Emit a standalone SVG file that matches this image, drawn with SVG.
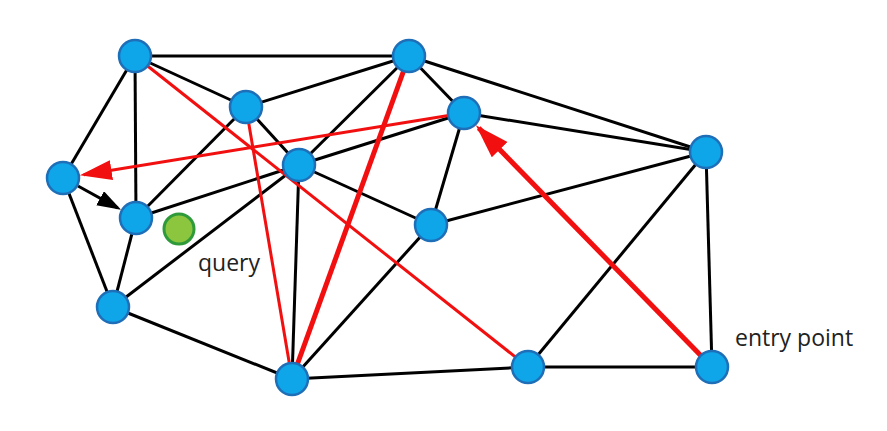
<svg xmlns="http://www.w3.org/2000/svg" width="887" height="431" viewBox="0 0 887 431">
<style>
.e{stroke:#000;stroke-width:3;fill:none}
.rt{stroke:#f20f0f;stroke-width:3;fill:none}
.rk{stroke:#f20f0f;stroke-width:5;fill:none}
.n{fill:#0ea5e9;stroke:#1f6fb8;stroke-width:2.5}
.q{fill:#8cc63f;stroke:#2e9a3a;stroke-width:3}
.t{font-family:"Open Sans","Liberation Sans",sans-serif;font-size:23px;fill:#222}
</style>
<defs>
<marker id="ar" markerUnits="userSpaceOnUse" markerWidth="40" markerHeight="30" refX="28" refY="10" orient="auto">
<path d="M0,0 L32,10 L0,20 Z" fill="#f20f0f"/>
</marker>
<marker id="ar2" markerUnits="userSpaceOnUse" markerWidth="40" markerHeight="30" refX="30" refY="11" orient="auto">
<path d="M0,0 L34,11 L0,22 Z" fill="#f20f0f"/>
</marker>
<marker id="ab" markerUnits="userSpaceOnUse" markerWidth="30" markerHeight="24" refX="20" refY="8" orient="auto">
<path d="M0,0 L24,8 L0,16 Z" fill="#000"/>
</marker>
</defs>
<g id="connectors">
<line class="e" x1="135" y1="56" x2="409" y2="56"/>
<line class="e" x1="135" y1="56" x2="246" y2="107"/>
<line class="e" x1="135" y1="56" x2="63" y2="178"/>
<line class="e" x1="135" y1="56" x2="136" y2="218"/>
<line class="e" x1="409" y1="56" x2="246" y2="107"/>
<line class="e" x1="409" y1="56" x2="299" y2="165"/>
<line class="e" x1="409" y1="56" x2="464" y2="113"/>
<line class="e" x1="409" y1="56" x2="706" y2="152"/>
<line class="e" x1="246" y1="107" x2="136" y2="218"/>
<line class="e" x1="246" y1="107" x2="299" y2="165"/>
<line class="e" x1="136" y1="218" x2="299" y2="165"/>
<line class="e" x1="113" y1="307" x2="299" y2="165"/>
<line class="e" x1="299" y1="165" x2="464" y2="113"/>
<line class="e" x1="299" y1="165" x2="431" y2="225"/>
<line class="e" x1="299" y1="165" x2="292" y2="379"/>
<line class="e" x1="464" y1="113" x2="431" y2="225"/>
<line class="e" x1="464" y1="113" x2="706" y2="152"/>
<line class="e" x1="431" y1="225" x2="706" y2="152"/>
<line class="e" x1="431" y1="225" x2="292" y2="379"/>
<line class="e" x1="63" y1="178" x2="113" y2="307"/>
<line class="e" x1="136" y1="218" x2="113" y2="307"/>
<line class="e" x1="113" y1="307" x2="292" y2="379"/>
<line class="e" x1="292" y1="379" x2="528" y2="367"/>
<line class="e" x1="528" y1="367" x2="712" y2="367"/>
<line class="e" x1="528" y1="367" x2="706" y2="152"/>
<line class="e" x1="706" y1="152" x2="712" y2="367"/>
<line class="e" x1="78" y1="186" x2="117.6" y2="207.9" marker-end="url(#ab)"/>
<line class="rt" x1="135" y1="56" x2="528" y2="367"/>
<line class="rt" x1="246" y1="107" x2="292" y2="379"/>
<line class="rk" x1="409" y1="56" x2="292" y2="379"/>
<line class="rt" x1="464" y1="113" x2="83.8" y2="174.7" marker-end="url(#ar)"/>
<line class="rk" x1="712" y1="367" x2="478.7" y2="128.1" marker-end="url(#ar2)"/>
</g>
<g id="n-a"><circle class="n" cx="135" cy="56" r="16"/></g>
<g id="n-b"><circle class="n" cx="409" cy="56" r="16"/></g>
<g id="n-c"><circle class="n" cx="246" cy="107" r="16"/></g>
<g id="n-d"><circle class="n" cx="464" cy="113" r="16"/></g>
<g id="n-e"><circle class="n" cx="63" cy="178" r="16"/></g>
<g id="n-f"><circle class="n" cx="299" cy="165" r="16"/></g>
<g id="n-g"><circle class="n" cx="706" cy="152" r="16"/></g>
<g id="n-h"><circle class="n" cx="136" cy="218" r="16"/></g>
<g id="n-i"><circle class="n" cx="431" cy="225" r="16"/></g>
<g id="n-j"><circle class="n" cx="113" cy="307" r="16"/></g>
<g id="n-k"><circle class="n" cx="292" cy="379" r="16"/></g>
<g id="n-l"><circle class="n" cx="528" cy="367" r="16"/></g>
<g id="n-m"><circle class="n" cx="712" cy="367" r="16"/></g>
<g id="query"><circle class="q" cx="179" cy="229" r="15"/><text class="t" x="198" y="271">query</text></g>
<g id="entry-label"><text class="t" x="735" y="346">entry point</text></g>
</svg>
